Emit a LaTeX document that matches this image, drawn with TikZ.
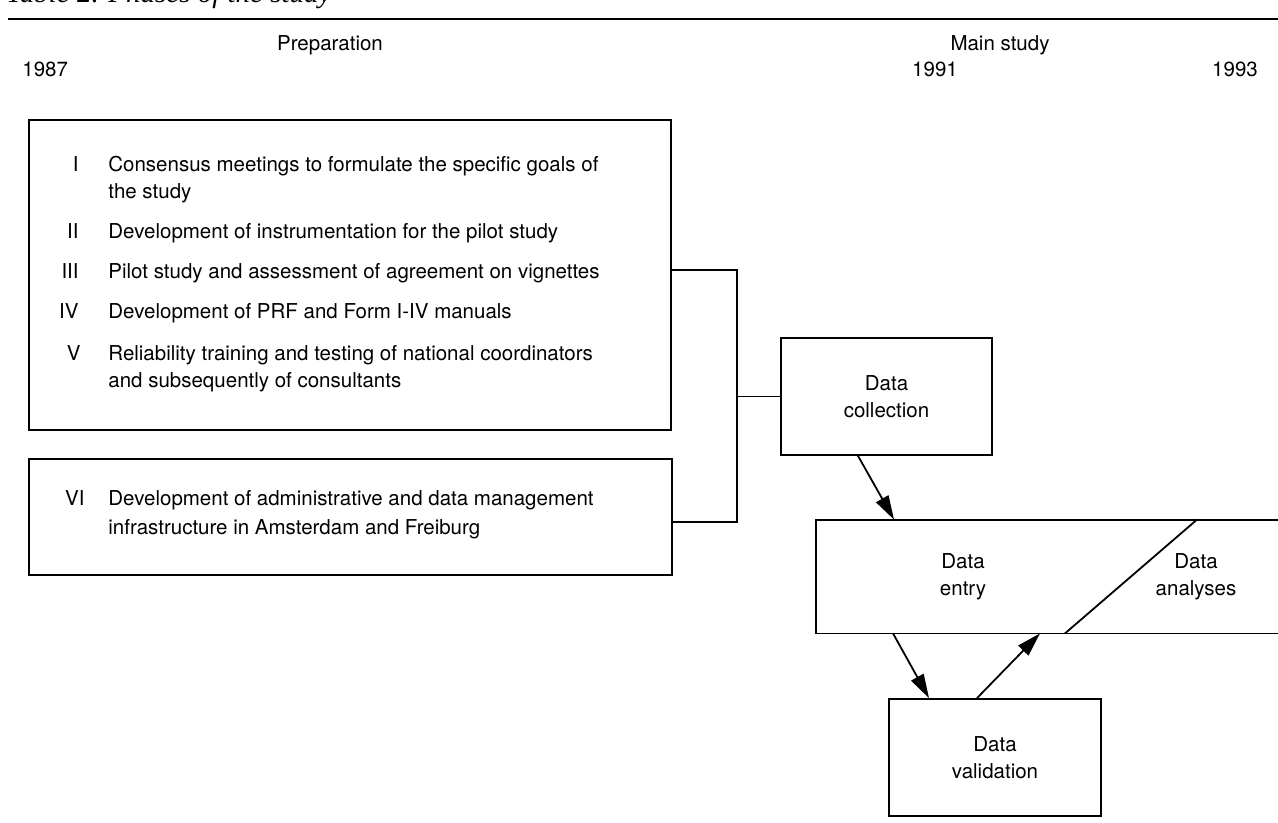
\documentclass[tikz,border=0pt]{standalone}
\usepackage{fontspec}
\setmainfont{TeX Gyre Heros}
\newfontfamily\captionfont{Liberation Serif}
\usepackage{tikz}
\usetikzlibrary{arrows.meta}

\begin{document}
\begin{tikzpicture}[x=0.5pt,y=-0.5pt,
  every node/.style={font=\fontsize{10.25}{13.5}\selectfont,text=black,inner sep=0pt},
  box/.style={draw=black,line width=0.9pt,rectangle,align=center},
  wire/.style={black,line width=0.9pt},
  arr/.style={black,line width=0.9pt,-{Triangle[length=12pt,width=7pt]}}]

\useasboundingbox (0,0) rectangle (1278,823);

% heading:
\path (6,3) node[anchor=base west,font=\captionfont\itshape\fontsize{14.5}{16}\selectfont] (caption) {Table 2. Phases of the study};
\draw[black,line width=0.7pt] (8,19) -- (1278,19);
\path (330,51) node[anchor=base] (prephead) {Preparation};
\path (1000,51) node[anchor=base] (mainhead) {Main study};
\path (22,77) node[anchor=base west] (y87) {1987};
\path (935,77) node[anchor=base] (y91) {1991};
\path (1235,77) node[anchor=base] (y93) {1993};

% preparation boxes:
\node[box,minimum width=321pt,minimum height=155pt] (prep) at (350,275) {};
\node[box,minimum width=321.5pt,minimum height=58pt] (infra) at (350.5,517) {};
\path (79,172) node[anchor=base east] (n1) {I};
\path (108,172) node[anchor=base west] (t1) {Consensus meetings to formulate the specific goals of};
\path (108,199) node[anchor=base west] (t1b) {the study};
\path (79,239) node[anchor=base east] (n2) {II};
\path (108,239) node[anchor=base west] (t2) {Development of instrumentation for the pilot study};
\path (79,279) node[anchor=base east] (n3) {III};
\path (108,279) node[anchor=base west] (t3) {Pilot study and assessment of agreement on vignettes};
\path (79,319) node[anchor=base east] (n4) {IV};
\path (108,319) node[anchor=base west] (t4) {Development of PRF and Form I-IV manuals};
\path (81,360) node[anchor=base east] (n5) {V};
\path (108,360) node[anchor=base west] (t5) {Reliability training and testing of national coordinators};
\path (108,387) node[anchor=base west] (t5b) {and subsequently of consultants};
\path (85,505) node[anchor=base east] (n6) {VI};
\path (108,505) node[anchor=base west] (t6) {Development of administrative and data management};
\path (108,534) node[anchor=base west] (t6b) {infrastructure in Amsterdam and Freiburg};

% main study:
\node[box,minimum width=105.5pt,minimum height=58.5pt] (collect) at (886.5,396.5) {Data\\collection};
\node[box,minimum width=106pt,minimum height=58.5pt] (valid) at (995,757.5) {Data\\validation};
\node[minimum width=231pt,minimum height=56.5pt] (process) at (1047,576.5) {};
\draw[wire] (process.north east) -- (process.north west) -- (process.south west) -- (process.south east);
\draw[wire] (1197,0 |- process.north) -- (1065,0 |- process.south);
\path (963,576.5) node[align=center] (entry) {Data\\entry};
\path (1196,577) node[align=center] (analyses) {Data\\analyses};

% connectors:
\coordinate (jA) at (737,270);
\coordinate (jB) at (737,522);
\draw[wire] (prep.east |- jA) -- (jA) -- (jB) -- (infra.east |- jB);
\draw[wire] (jA |- collect.west) -- (collect.west);
\draw[arr] (858,0 |- collect.south) -- (894,0 |- process.north);
\draw[arr] (893,0 |- process.south) -- (929,0 |- valid.north);
\draw[arr] (977,0 |- valid.north) -- (1040,0 |- process.south);

\end{tikzpicture}
\end{document}
